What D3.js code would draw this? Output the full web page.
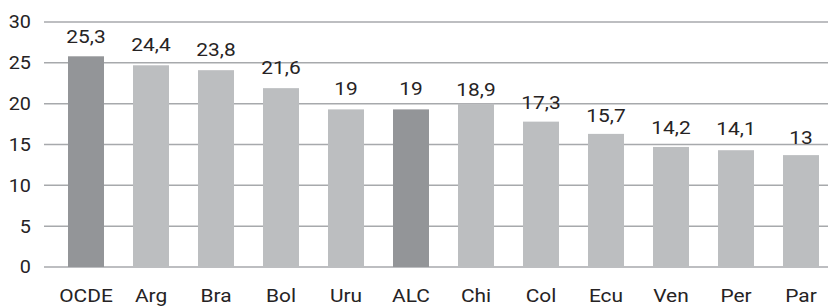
<!DOCTYPE html>
<html>
<head>
<meta charset="utf-8">
<script src="https://cdn.jsdelivr.net/npm/d3@7"></script>
<style>
body{margin:0;background:#fff;}
text{font-family:Roboto,"Noto Sans",sans-serif;fill:#262324;}
</style>
</head>
<body>
<div id="chart"></div>
<script>
// categories, printed labels and bar heights
var paises=["OCDE","Arg","Bra","Bol","Uru","ALC","Chi","Col","Ecu","Ven","Per","Par"];
var etiquetas=["25,3","24,4","23,8","21,6","19","19","18,9","17,3","15,7","14,2","14,1","13"];
var valoresEtiqueta=[25.3,24.4,23.8,21.6,19,19,18.9,17.3,15.7,14.2,14.1,13];
var alturas=[25.8,24.7,24.1,21.9,19.3,19.3,20.0,17.8,16.3,14.7,14.3,13.7];
var destacados=["OCDE","ALC"];
var ticks=[0,5,10,15,20,25,30];

var W=828,H=306,
	m={top:22,left:44,bottom:39},
	ih=H-m.top-m.bottom,
	iw=W-m.left;
var sx=1.1;

var svg=d3.select("#chart")
	.append("svg")
	.attr("width",W)
	.attr("height",H);

var g=svg.append("g")
	.attr("transform","translate("+m.left+","+m.top+")");

var x=d3.scaleBand()
	.domain(paises)
	.range([0,799])
	.paddingInner(29/65)
	.paddingOuter(24/65);

var y=d3.scaleLinear()
	.domain([0,30])
	.range([ih,0]);

// grid
g.selectAll("line.grid")
	.data(ticks)
	.enter()
	.append("line")
	.attr("x1",0)
	.attr("x2",iw)
	.attr("y1",function(d){return y(d);})
	.attr("y2",function(d){return y(d);})
	.attr("stroke","#a7a9ac")
	.attr("stroke-width",1.5);

g.selectAll("text.tick")
	.data(ticks)
	.enter()
	.append("text")
	.attr("text-anchor","end")
	.attr("dy","0.36em")
	.attr("font-size",18)
	.attr("transform",function(d){return "translate(-13,"+y(d)+") scale("+sx+",1)";})
	.text(function(d){return d;});

// bars
g.selectAll("rect")
	.data(alturas)
	.enter()
	.append("rect")
	.attr("x",function(d,i){return x(paises[i]);})
	.attr("y",function(d){return y(d);})
	.attr("width",x.bandwidth())
	.attr("height",function(d){return ih-y(d);})
	.attr("fill",function(d,i){return destacados.indexOf(paises[i])>=0?"#939598":"#bcbec0";});

// value labels
g.selectAll("text.val")
	.data(valoresEtiqueta)
	.enter()
	.append("text")
	.attr("text-anchor","middle")
	.attr("font-size",19)
	.attr("transform",function(d,i){return "translate("+(x(paises[i])+x.bandwidth()/2)+","+(y(d)-17)+") scale("+sx+",1)";})
	.text(function(d,i){return etiquetas[i];});

// category labels
g.selectAll("text.cat")
	.data(paises)
	.enter()
	.append("text")
	.attr("text-anchor","middle")
	.attr("font-size",19)
	.attr("transform",function(d){return "translate("+(x(d)+x.bandwidth()/2)+","+(ih+35)+") scale("+sx+",1)";})
	.text(function(d){return d;});
</script>
</body>
</html>
